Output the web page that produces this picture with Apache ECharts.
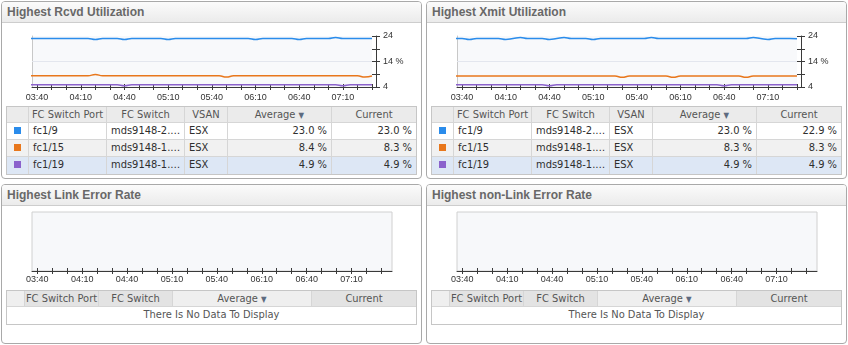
<!DOCTYPE html>
<html>
<head>
<meta charset="utf-8">
<title>FC Port Utilization</title>
<script src="https://cdn.jsdelivr.net/npm/echarts@6/dist/echarts.min.js"></script>
<style>
  html, body { margin: 0; padding: 0; background: #fff; }
  #dash { position: relative; width: 848px; height: 345px; overflow: hidden;
          font-family: "DejaVu Sans Condensed", "Liberation Sans", Arial, sans-serif; }
  .panel { position: absolute; box-sizing: border-box; border: 1px solid #a9a9a9;
           border-radius: 4px; background: #fff; }
  .hdr { position: absolute; left: 0; top: 0; right: 0; height: 21px; box-sizing: border-box;
         border-bottom: 1px solid #cdcdcd; border-radius: 3px 3px 0 0;
         background: linear-gradient(#fbfbfb, #ebebeb);
         font: bold 12px "Liberation Sans", Arial, sans-serif; color: #686868;
         line-height: 20px; padding-left: 5px; white-space: nowrap; }
  .tbl { position: absolute; box-sizing: border-box; border: 1px solid #c6c6c6; background: #fff; }
  .cell { position: absolute; box-sizing: border-box; border-right: 1px solid #d6d6d6;
          border-bottom: 1px solid #d6d6d6; white-space: nowrap; overflow: hidden;
          font-size: 11px; color: #2e2e2e; padding: 0 4px; }
  .cell.head { color: #555; text-align: center; padding: 0; }
  .sw { display: inline-block; width: 7px; height: 7px; vertical-align: middle; margin-top: -2px; }
  .sort { color: #5d6b80; font-size: 8px; }
  #chart { position: absolute; left: 0; top: 0; width: 848px; height: 345px; }
</style>
</head>
<body>
<div id="dash"><div id="chart"></div></div>
<script>
// Sample times (5-minute polling)
const times = [
  '03:35','03:40','03:45','03:50','03:55','04:00','04:05','04:10','04:15','04:20','04:25','04:30',
  '04:35','04:40','04:45','04:50','04:55','05:00','05:05','05:10','05:15','05:20','05:25','05:30',
  '05:35','05:40','05:45','05:50','05:55','06:00','06:05','06:10','06:15','06:20','06:25','06:30',
  '06:35','06:40','06:45','06:50','06:55','07:00','07:05','07:10','07:15','07:20','07:25','07:30'
];

// Received utilization, % per port
const rcvdFc1_9 = [
  23.0,23.0,23.0,23.0,23.0,23.0,23.0,23.0,23.0,22.6,23.0,23.0,
  23.0,22.6,23.0,23.0,23.0,23.0,23.0,22.6,23.0,23.0,23.0,23.0,
  23.0,23.0,23.0,23.0,23.0,23.0,23.0,22.6,23.0,23.0,23.0,23.0,
  23.0,22.6,23.0,23.0,23.0,23.0,23.4,23.0,23.0,23.0,23.0,23.0
];
const rcvdFc1_15 = [
  8.4,8.4,8.4,8.4,8.4,8.4,8.4,8.4,8.4,8.9,8.4,8.4,
  8.4,8.4,8.4,8.4,8.4,8.4,8.4,8.4,8.4,8.4,8.4,8.4,
  8.4,8.4,8.4,7.9,8.4,8.4,8.4,8.4,8.4,8.4,8.4,8.4,
  8.4,8.4,8.4,8.4,8.4,8.4,8.4,8.4,8.4,8.4,7.9,8.3
];
const rcvdFc1_19 = [
  4.9,4.9,4.9,4.9,4.9,4.9,4.9,4.9,4.9,4.9,4.9,4.9,
  4.9,4.5,4.9,4.9,4.9,4.9,4.9,4.9,4.9,4.9,4.9,4.9,
  4.9,4.9,4.9,4.9,4.9,4.9,4.9,4.9,4.9,4.9,4.9,4.9,
  4.9,4.9,4.9,4.9,4.9,4.9,4.9,4.5,4.9,4.9,4.9,4.9
];

// Transmitted utilization, % per port
const xmitFc1_9 = [
  23.0,23.0,22.6,23.0,23.0,23.0,23.0,22.6,23.0,23.4,23.0,23.0,
  23.0,22.6,23.0,23.4,23.0,23.0,23.0,22.6,23.0,23.0,23.0,23.0,
  23.0,23.0,23.0,23.4,23.0,23.0,23.0,23.0,23.0,23.0,23.0,23.0,
  23.0,23.0,23.0,23.0,23.0,23.4,23.0,22.6,23.0,23.0,23.0,22.9
];
const xmitFc1_15 = [
  8.3,8.3,8.3,8.3,8.3,8.3,8.3,8.3,8.3,8.3,8.3,8.3,
  8.3,8.3,8.3,8.3,8.3,8.3,8.3,8.3,8.3,8.3,8.3,7.8,
  8.3,8.3,8.3,8.3,8.3,8.3,7.8,8.3,8.3,8.3,8.3,8.3,
  8.3,8.3,8.3,8.3,7.8,8.3,8.3,8.3,8.3,8.3,8.3,8.3
];
const xmitFc1_19 = [
  4.9,4.9,4.9,4.9,4.9,4.9,4.9,4.9,4.9,4.9,4.9,4.9,
  4.9,4.5,4.9,4.9,4.9,4.9,4.9,4.9,4.9,4.9,4.9,4.9,
  4.9,4.9,4.9,4.9,4.9,4.9,4.9,4.9,4.9,4.9,4.9,4.9,
  4.9,4.5,4.9,4.9,4.9,4.9,4.9,4.9,4.9,4.9,4.9,4.9
];

// Table columns
const portNames = ['fc1/9', 'fc1/15', 'fc1/19'];
const switchNames = ['mds9148-2.\u2026', 'mds9148-1.\u2026', 'mds9148-1.\u2026'];
const vsanNames = ['ESX', 'ESX', 'ESX'];

// Axis labels
const xLabelTimes = ['03:40','04:10','04:40','05:10','05:40','06:10','06:40','07:10'];
const xFirstTick = '03:40';
const xLastTick = '07:30';
const yLabelValues = [4, 14, 24];
const yTickValues = [4, 9, 14, 19, 24];

const portColors = ['#2a8ceb', '#e8771c', '#8b62cc'];
const panelTitles = ['Highest Rcvd Utilization', 'Highest Xmit Utilization',
                     'Highest Link Error Rate', 'Highest non-Link Error Rate'];
const utilHeaders = ['', 'FC Switch Port', 'FC Switch', 'VSAN', 'Average', 'Current'];
const errorHeaders = ['', 'FC Switch Port', 'FC Switch', 'Average', 'Current'];
const emptyMessage = 'There Is No Data To Display';

// ---------- helpers ----------
function toMinutes(s) { const p = s.split(':'); return +p[0] * 60 + +p[1]; }
function hhmm(v) {
  const m = Math.round(v);
  return String(Math.floor(m / 60)).padStart(2, '0') + ':' + String(m % 60).padStart(2, '0');
}
function mean(a) { return a.reduce((s, v) => s + v, 0) / a.length; }
function pct(v) { return v.toFixed(1) + ' %'; }

const dash = document.getElementById('dash');

function addPanel(left, top, width, height, title) {
  const p = document.createElement('div');
  p.className = 'panel';
  Object.assign(p.style, { left: left + 'px', top: top + 'px', width: width + 'px', height: height + 'px' });
  const h = document.createElement('div');
  h.className = 'hdr';
  h.textContent = title;
  p.appendChild(h);
  dash.insertBefore(p, document.getElementById('chart'));
}

// widths: column widths; headBg: header background per column; rows: array of row descriptions
function addTable(left, top, widths, headers, headBg, rows, aligns) {
  const headH = 16, rowH = 17;
  const t = document.createElement('div');
  t.className = 'tbl';
  const inner = widths.reduce((s, w) => s + w, 0);
  const nRows = rows.length;
  Object.assign(t.style, { left: left + 'px', top: top + 'px', width: (inner + 2) + 'px',
                           height: (headH + rowH * nRows + 2) + 'px' });
  let x = 0;
  widths.forEach((w, c) => {
    const d = document.createElement('div');
    d.className = 'cell head';
    Object.assign(d.style, { left: x + 'px', top: '0px', width: w + 'px', height: headH + 'px',
                             lineHeight: (headH - 1) + 'px', background: headBg[c] });
    if (c === widths.length - 1) d.style.borderRight = 'none';
    if (headers[c] === 'Average') d.innerHTML = 'Average <span class="sort">\u25BC</span>';
    else d.textContent = headers[c];
    t.appendChild(d);
    x += w;
  });
  rows.forEach((row, r) => {
    let cx = 0;
    const y = headH + r * rowH;
    if (row.span) {
      const d = document.createElement('div');
      d.className = 'cell';
      Object.assign(d.style, { left: '0px', top: y + 'px', width: inner + 'px', height: rowH + 'px',
                               lineHeight: (rowH - 1) + 'px', textAlign: 'center', color: '#555',
                               borderRight: 'none', borderBottom: 'none', background: row.bg });
      d.textContent = row.span;
      t.appendChild(d);
      return;
    }
    row.cells.forEach((val, c) => {
      const d = document.createElement('div');
      d.className = 'cell';
      Object.assign(d.style, { left: cx + 'px', top: y + 'px', width: widths[c] + 'px', height: rowH + 'px',
                               lineHeight: (rowH - 1) + 'px', textAlign: aligns[c], background: row.bg });
      if (c === widths.length - 1) d.style.borderRight = 'none';
      if (r === nRows - 1) d.style.borderBottom = 'none';
      if (c === 0) {
        const s = document.createElement('span');
        s.className = 'sw';
        s.style.background = val;
        d.appendChild(s);
      } else {
        d.textContent = val;
      }
      t.appendChild(d);
      cx += widths[c];
    });
  });
  dash.insertBefore(t, document.getElementById('chart'));
}

// ---------- panels ----------
addPanel(1, 1, 421, 178, panelTitles[0]);
addPanel(426, 1, 421, 178, panelTitles[1]);
addPanel(1, 184, 421, 160, panelTitles[2]);
addPanel(426, 184, 421, 160, panelTitles[3]);

const rowBgs = ['#ffffff', '#f1f1f1', '#dde7f5'];
const utilWidths = [22, 78, 78, 43, 104, 84];
const utilAligns = ['center', 'left', 'left', 'left', 'right', 'right'];
const utilHeadBg = utilWidths.map(() => '#ebebeb');

function utilRows(seriesList) {
  return seriesList.map((s, i) => ({
    bg: rowBgs[i],
    cells: [portColors[i], portNames[i], switchNames[i], vsanNames[i], pct(mean(s)), pct(s[s.length - 1])]
  }));
}

const rcvdSeries = [rcvdFc1_9, rcvdFc1_15, rcvdFc1_19];
const xmitSeries = [xmitFc1_9, xmitFc1_15, xmitFc1_19];

addTable(6, 106, utilWidths, utilHeaders, utilHeadBg, utilRows(rcvdSeries), utilAligns);
addTable(431, 106, utilWidths, utilHeaders, utilHeadBg, utilRows(xmitSeries), utilAligns);

const errWidths = [18, 74, 74, 139, 104];
const errHeadBg = ['#efefef', '#e3e3e3', '#e3e3e3', '#efefef', '#e3e3e3'];
const emptyRows = [{ bg: '#ffffff', span: emptyMessage }];
addTable(6, 290, errWidths, errorHeaders, errHeadBg, emptyRows, []);
addTable(431, 290, errWidths, errorHeaders, errHeadBg, emptyRows, []);

// ---------- charts ----------
const AXIS_COLOR = '#3a3a3a';
const FONT = 'Liberation Sans';
const xMin = toMinutes(xFirstTick) - 3.5;
const tickMinutes = [];
for (let m = toMinutes(xFirstTick); m <= toMinutes(xLastTick); m += 10) tickMinutes.push(m);
const labelMinutes = xLabelTimes.map(toMinutes);

const grids = [
  { left: 32, top: 36, width: 340, height: 51, show: true, backgroundColor: '#f8f9fb', borderWidth: 0 },
  { left: 457, top: 36, width: 340, height: 51, show: true, backgroundColor: '#f8f9fb', borderWidth: 0 },
  { left: 32, top: 212, width: 360, height: 59, show: true, backgroundColor: '#f7f8fa', borderColor: '#d0d0d0', borderWidth: 1 },
  { left: 457, top: 212, width: 360, height: 59, show: true, backgroundColor: '#f7f8fa', borderColor: '#d0d0d0', borderWidth: 1 }
].map(g => Object.assign(g, { outerBoundsMode: 'none', containLabel: false }));

const xAxes = [], yAxes = [], series = [];

grids.forEach((g, gi) => {
  const xMax = gi < 2 ? toMinutes(xLastTick) : toMinutes(xLastTick) + 7;
  const xMain = xAxes.length;
  xAxes.push({
    type: 'value', gridIndex: gi, min: xMin, max: xMax, position: 'bottom',
    axisLine: { show: true, onZero: false, lineStyle: { color: AXIS_COLOR, width: 1 } },
    axisTick: { show: true, length: 3, customValues: tickMinutes, lineStyle: { color: AXIS_COLOR } },
    axisLabel: { show: true, customValues: labelMinutes, formatter: hhmm, fontSize: 9,
                 fontFamily: FONT, color: '#333', margin: gi < 2 ? 6 : 4 },
    splitLine: { show: false }
  });
  xAxes.push({
    type: 'value', gridIndex: gi, min: xMin, max: xMax, position: 'bottom',
    axisLine: { show: false },
    axisTick: { show: true, inside: true, length: 3, customValues: tickMinutes, lineStyle: { color: AXIS_COLOR } },
    axisLabel: { show: false }, splitLine: { show: false }
  });

  if (gi < 2) {
    const yMain = yAxes.length;
    yAxes.push({
      type: 'value', gridIndex: gi, position: 'right', offset: 4, min: 4, max: 24,
      axisLine: { show: true, lineStyle: { color: AXIS_COLOR } },
      axisTick: { show: true, length: 4, customValues: yTickValues, lineStyle: { color: AXIS_COLOR } },
      axisLabel: { show: true, customValues: yLabelValues, fontSize: 9, fontFamily: FONT, color: '#333', margin: 7,
                   formatter: v => (v === 14 ? v + ' %' : String(v)) },
      splitLine: { show: false }
    });
    yAxes.push({
      type: 'value', gridIndex: gi, position: 'right', offset: 4, min: 4, max: 24,
      axisLine: { show: false },
      axisTick: { show: true, inside: true, length: 4, customValues: yTickValues, lineStyle: { color: AXIS_COLOR } },
      axisLabel: { show: false }, splitLine: { show: false }
    });
    yAxes.push({
      type: 'value', gridIndex: gi, position: 'left', min: 4, max: 24,
      axisLine: { show: true, lineStyle: { color: '#c8c8c8' } },
      axisTick: { show: false }, axisLabel: { show: false }, splitLine: { show: false }
    });

    const data = gi === 0 ? rcvdSeries : xmitSeries;
    data.forEach((vals, si) => {
      const s = {
        type: 'line', xAxisIndex: xMain, yAxisIndex: yMain, name: portNames[si],
        data: times.map((t, i) => [toMinutes(t), vals[i]]),
        smooth: 0.5, showSymbol: false, symbol: 'none', silent: true, clip: true,
        lineStyle: { color: portColors[si], width: 1.5 },
        itemStyle: { color: portColors[si] },
        z: 3 + si
      };
      if (si === 0) {
        s.markLine = {
          silent: true, symbol: 'none', label: { show: false }, animation: false,
          lineStyle: { color: '#e3e6ee', width: 1, type: 'solid' },
          data: [{ yAxis: 14 }]
        };
      }
      series.push(s);
    });
  } else {
    yAxes.push({ type: 'value', gridIndex: gi, min: 0, max: 1, show: false });
  }
});

const chart = echarts.init(document.getElementById('chart'), null, { renderer: 'canvas' });
chart.setOption({
  animation: false,
  backgroundColor: 'transparent',
  grid: grids,
  xAxis: xAxes,
  yAxis: yAxes,
  series: series
});
</script>
</body>
</html>
